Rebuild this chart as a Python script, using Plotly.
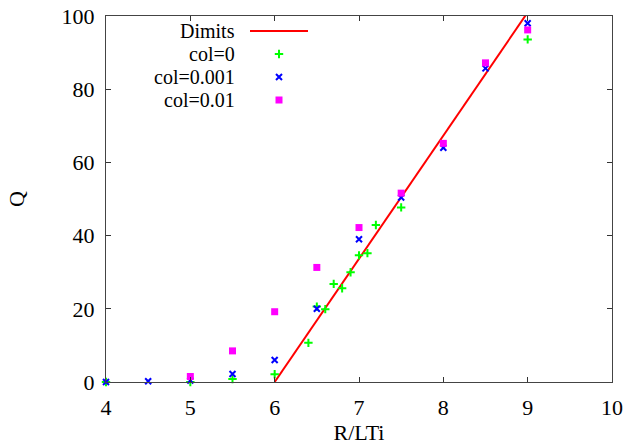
import plotly.graph_objects as go

# Dimits threshold line
dimits_x = [6.0, 9.0]
dimits_q = [0.0, 101.0]

# Heat flux Q versus R/LTi for three collisionalities
col0_x = [4.0, 5.0, 5.5, 6.0, 6.4, 6.5, 6.6, 6.7, 6.8, 6.9, 7.0, 7.1, 7.2, 7.5, 9.0]
col0_q = [0.0, 0.0, 0.8, 2.1, 10.7, 20.6, 19.9, 26.8, 25.6, 30.0, 34.6, 35.2, 42.9, 47.7, 93.6]

col001_x = [4.0, 4.5, 5.0, 5.5, 6.0, 6.5, 7.0, 7.5, 8.0, 8.5, 9.0]
col001_q = [0.0, 0.2, 0.4, 2.2, 6.0, 20.0, 39.0, 50.4, 64.0, 85.7, 98.0]

col01_x = [5.0, 5.5, 6.0, 6.5, 7.0, 7.5, 8.0, 8.5, 9.0]
col01_q = [1.5, 8.5, 19.2, 31.3, 42.2, 51.6, 65.2, 87.2, 96.2]

legend_labels = ["Dimits", "col=0", "col=0.001", "col=0.01"]

RED = "#ff0000"
GREEN = "#00ff00"
BLUE = "#0000ff"
MAGENTA = "#ff00ff"
FONT = "Liberation Serif"
FS = 22
KEY_FS = 20

fig = go.Figure()

green_marker = dict(symbol="cross-thin", size=6, color=GREEN,
                    line=dict(color=GREEN, width=2))
blue_marker = dict(symbol="x-thin", size=6, color=BLUE,
                   line=dict(color=BLUE, width=2))
magenta_marker = dict(symbol="square", size=7, color=MAGENTA, line=dict(width=0))

fig.add_trace(go.Scatter(x=dimits_x, y=dimits_q, mode="lines",
                         line=dict(color=RED, width=2), showlegend=False))
fig.add_trace(go.Scatter(x=col0_x, y=col0_q, mode="markers", cliponaxis=False,
                         marker=green_marker, showlegend=False))
fig.add_trace(go.Scatter(x=col001_x, y=col001_q, mode="markers", cliponaxis=False,
                         marker=blue_marker, showlegend=False))
fig.add_trace(go.Scatter(x=col01_x, y=col01_q, mode="markers", cliponaxis=False,
                         marker=magenta_marker, showlegend=False))

# Key: text right-aligned with its sample to the right, on an overlay axis in [0,1]
W, H = 626, 445
ML, MR, MT, MB = 106, 14, 16, 63
pw, ph = W - ML - MR, H - MT - MB

def px_x(p):
    return (p - ML) / pw

def px_y(p):
    return 1 - (p - MT) / ph

rows = [31, 54, 77, 100]
text_right = 236
for lab, ry in zip(legend_labels, rows):
    fig.add_annotation(x=px_x(text_right), y=px_y(ry), xref="paper", yref="paper",
                       text=lab, showarrow=False, xanchor="right", yanchor="middle",
                       borderpad=0,
                       font=dict(family=FONT, size=KEY_FS, color="black"))

fig.add_trace(go.Scatter(x=[px_x(250), px_x(308)], y=[px_y(rows[0])] * 2,
                         xaxis="x2", yaxis="y2", mode="lines",
                         line=dict(color=RED, width=2), showlegend=False))
key_x = px_x(279)
for ry, mk in zip(rows[1:], [green_marker, blue_marker, magenta_marker]):
    fig.add_trace(go.Scatter(x=[key_x], y=[px_y(ry)], xaxis="x2", yaxis="y2",
                             mode="markers", showlegend=False, marker=mk))

axis_common = dict(showgrid=False, zeroline=False, showline=True, linecolor="#444444",
                   linewidth=1, ticks="inside", ticklen=5, automargin=False,
                   mirror="ticks", tickcolor="#333333", tickwidth=1,
                   tickfont=dict(family=FONT, size=FS, color="black"))

fig.update_layout(
    width=W, height=H,
    margin=dict(l=ML, r=MR, t=MT, b=MB),
    paper_bgcolor="white", plot_bgcolor="white",
    xaxis=dict(range=[4, 10], dtick=1, tick0=4,
               ticklabelstandoff=6,
               title=dict(text="R/LTi", font=dict(family=FONT, size=FS, color="black"),
                          standoff=9),
               **axis_common),
    yaxis=dict(range=[0, 100], dtick=20, tick0=0,
               ticklabelstandoff=6,
               title=dict(text="Q", font=dict(family=FONT, size=FS, color="black"),
                          standoff=30),
               **axis_common),
    xaxis2=dict(range=[0, 1], overlaying="x", visible=False, fixedrange=True),
    yaxis2=dict(range=[0, 1], overlaying="y", visible=False, fixedrange=True),
    showlegend=False,
)

fig.write_html("out.html")
